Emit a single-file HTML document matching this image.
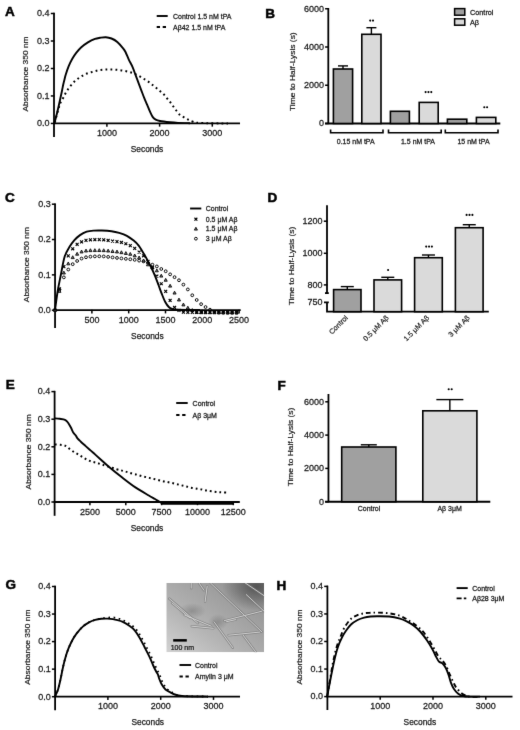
<!DOCTYPE html>
<html><head><meta charset="utf-8"><style>
html,body{margin:0;padding:0;background:#fff;}
svg{display:block;font-family:"Liberation Sans", sans-serif;}
#wrap{width:520px;height:730px;overflow:hidden;will-change:transform;}
</style></head><body><div id="wrap">
<svg width="520" height="730" viewBox="0 0 520 730">
<defs><filter id="soft" x="0" y="0" width="520" height="730" filterUnits="userSpaceOnUse" color-interpolation-filters="sRGB"><feConvolveMatrix order="3" kernelMatrix="0.00524 0.0619 0.00524 0.0619 0.7312 0.0619 0.00524 0.0619 0.00524" divisor="1" edgeMode="duplicate"/></filter></defs>
<g filter="url(#soft)">
<rect width="520" height="730" fill="#fff"/>
<text x="5" y="15.6" font-size="13.5" text-anchor="start" font-weight="bold" fill="#000" stroke="#000" stroke-width="0.5" >A</text>
<text x="0" y="0" font-size="8.4" text-anchor="middle" fill="#1a1a1a" stroke="#1a1a1a" stroke-width="0.22" transform="translate(25.7,74) rotate(-90) scale(1,0.88)" dominant-baseline="central">Absorbance 350 nm</text>
<line x1="54" y1="12.75" x2="54" y2="137" stroke="#000" stroke-width="1.8" />
<line x1="50.8" y1="13.5" x2="54.5" y2="13.5" stroke="#000" stroke-width="1.5" />
<text x="0" y="0" transform="translate(49.6,16.3) scale(1,1.06)" font-size="9" text-anchor="end" font-weight="normal" fill="#1a1a1a" stroke="#1a1a1a" stroke-width="0.25" >0.4</text>
<line x1="50.8" y1="41" x2="54.5" y2="41" stroke="#000" stroke-width="1.5" />
<text x="0" y="0" transform="translate(49.6,43.8) scale(1,1.06)" font-size="9" text-anchor="end" font-weight="normal" fill="#1a1a1a" stroke="#1a1a1a" stroke-width="0.25" >0.3</text>
<line x1="50.8" y1="68.5" x2="54.5" y2="68.5" stroke="#000" stroke-width="1.5" />
<text x="0" y="0" transform="translate(49.6,71.3) scale(1,1.06)" font-size="9" text-anchor="end" font-weight="normal" fill="#1a1a1a" stroke="#1a1a1a" stroke-width="0.25" >0.2</text>
<line x1="50.8" y1="95.95" x2="54.5" y2="95.95" stroke="#000" stroke-width="1.5" />
<text x="0" y="0" transform="translate(49.6,98.75) scale(1,1.06)" font-size="9" text-anchor="end" font-weight="normal" fill="#1a1a1a" stroke="#1a1a1a" stroke-width="0.25" >0.1</text>
<line x1="50.8" y1="123.45" x2="54.5" y2="123.45" stroke="#000" stroke-width="1.5" />
<text x="0" y="0" transform="translate(49.6,126.25) scale(1,1.06)" font-size="9" text-anchor="end" font-weight="normal" fill="#1a1a1a" stroke="#1a1a1a" stroke-width="0.25" >0.0</text>
<line x1="53.3" y1="123.45" x2="240" y2="123.45" stroke="#000" stroke-width="1.8" />
<line x1="106.9" y1="122.95" x2="106.9" y2="126.65" stroke="#000" stroke-width="1.5" />
<text x="0" y="0" transform="translate(106.9,136.1) scale(1,1.06)" font-size="9" text-anchor="middle" font-weight="normal" fill="#1a1a1a" stroke="#1a1a1a" stroke-width="0.25" >1000</text>
<line x1="159.6" y1="122.95" x2="159.6" y2="126.65" stroke="#000" stroke-width="1.5" />
<text x="0" y="0" transform="translate(159.6,136.1) scale(1,1.06)" font-size="9" text-anchor="middle" font-weight="normal" fill="#1a1a1a" stroke="#1a1a1a" stroke-width="0.25" >2000</text>
<line x1="212.3" y1="122.95" x2="212.3" y2="126.65" stroke="#000" stroke-width="1.5" />
<text x="0" y="0" transform="translate(212.3,136.1) scale(1,1.06)" font-size="9" text-anchor="middle" font-weight="normal" fill="#1a1a1a" stroke="#1a1a1a" stroke-width="0.25" >3000</text>
<text x="147" y="151.8" font-size="8.4" text-anchor="middle" font-weight="normal" fill="#1a1a1a" stroke="#1a1a1a" stroke-width="0.25" >Seconds</text>
<path d="M54.5,123 C54.97,121.17 56.38,115.83 57.3,112 C58.22,108.17 59.35,102.92 60,100 C60.65,97.08 60.83,96.2 61.2,94.5 C61.57,92.8 61.87,91.42 62.2,89.8 C62.53,88.18 62.82,86.52 63.2,84.8 C63.58,83.08 64.08,81.17 64.5,79.5 C64.92,77.83 65.02,76.98 65.7,74.8 C66.38,72.62 67.5,69.07 68.6,66.4 C69.7,63.73 71,61.08 72.3,58.8 C73.6,56.52 74.9,54.62 76.4,52.7 C77.9,50.78 79.38,49.02 81.3,47.3 C83.22,45.58 85.62,43.8 87.9,42.4 C90.18,41 92.98,39.67 95,38.9 C97.02,38.13 98.2,38.08 100,37.8 C101.8,37.52 103.88,37.08 105.8,37.2 C107.72,37.32 109.58,37.7 111.5,38.5 C113.42,39.3 115.37,40.37 117.3,42 C119.23,43.63 121.73,46.63 123.1,48.3 C124.47,49.97 124.55,50.12 125.5,52 C126.45,53.88 127.6,57.05 128.8,59.6 C130,62.15 131.58,64.75 132.7,67.3 C133.82,69.85 134.55,72.35 135.5,74.9 C136.45,77.45 137.43,80.03 138.4,82.6 C139.37,85.17 140.33,87.75 141.3,90.3 C142.27,92.85 143.23,95.52 144.2,97.9 C145.17,100.28 146.15,102.35 147.1,104.6 C148.05,106.85 148.95,109.32 149.9,111.4 C150.85,113.48 151.83,115.73 152.8,117.1 C153.77,118.47 154.5,118.95 155.7,119.6 C156.9,120.25 157.62,120.55 160,121 C162.38,121.45 167,121.98 170,122.3 C173,122.62 174.67,122.75 178,122.9 C181.33,123.05 188,123.15 190,123.2" fill="none" stroke="#000" stroke-width="1.9" stroke-linejoin="round" />
<path d="M54.8,122.5 C55.17,121.08 56.3,116.58 57,114 C57.7,111.42 58.42,108.88 59,107 C59.58,105.12 59.82,104.18 60.5,102.7 C61.18,101.22 62.28,99.63 63.1,98.1 C63.92,96.57 64.55,95.02 65.4,93.5 C66.25,91.98 67.2,90.45 68.2,89 C69.2,87.55 70.25,86.13 71.4,84.8 C72.55,83.47 73.8,82.17 75.1,81 C76.4,79.83 77.78,78.78 79.2,77.8 C80.62,76.82 82.1,75.88 83.6,75.1 C85.1,74.32 86.55,73.68 88.2,73.1 C89.85,72.52 91.77,72.07 93.5,71.6 C95.23,71.13 96.88,70.62 98.6,70.3 C100.32,69.98 102.12,69.82 103.8,69.7 C105.48,69.58 107.03,69.62 108.7,69.6 C110.37,69.58 112.08,69.53 113.8,69.6 C115.52,69.67 117.27,69.8 119,70 C120.73,70.2 122.48,70.47 124.2,70.8 C125.92,71.13 127.65,71.55 129.3,72 C130.95,72.45 132.5,72.85 134.1,73.5 C135.7,74.15 137.37,75.07 138.9,75.9 C140.43,76.73 141.82,77.6 143.3,78.5 C144.78,79.4 146.37,80.3 147.8,81.3 C149.23,82.3 150.52,83.42 151.9,84.5 C153.28,85.58 154.72,86.68 156.1,87.8 C157.48,88.92 158.88,90.07 160.2,91.2 C161.52,92.33 162.82,93.35 164,94.6 C165.18,95.85 166.2,97.35 167.3,98.7 C168.4,100.05 169.57,101.37 170.6,102.7 C171.63,104.03 172.48,105.32 173.5,106.7 C174.52,108.08 175.62,109.62 176.7,111 C177.78,112.38 178.77,113.93 180,115 C181.23,116.07 182.68,116.6 184.1,117.4 C185.52,118.2 187.02,119.08 188.5,119.8 C189.98,120.52 191.08,121.17 193,121.7 C194.92,122.23 194.17,122.7 200,123 C205.83,123.3 223.33,123.42 228,123.5" fill="none" stroke="#000" stroke-width="2.0" stroke-linejoin="round" stroke-dasharray="1.8 3.2"/>
<line x1="156.7" y1="16" x2="167.7" y2="16" stroke="#000" stroke-width="1.9" />
<text x="0" y="0" transform="translate(173,18.5) scale(1,1.08)" font-size="7" text-anchor="start" font-weight="normal" fill="#1a1a1a" stroke="#1a1a1a" stroke-width="0.25" >Control 1.5 nM tPA</text>
<line x1="156.7" y1="27" x2="167.7" y2="27" stroke="#000" stroke-width="1.9" stroke-dasharray="3.3 2.7"/>
<text x="0" y="0" transform="translate(173,29.5) scale(1,1.08)" font-size="7" text-anchor="start" font-weight="normal" fill="#1a1a1a" stroke="#1a1a1a" stroke-width="0.25" >A&#946;42 1.5 nM tPA</text>
<text x="5" y="201.8" font-size="13.5" text-anchor="start" font-weight="bold" fill="#000" stroke="#000" stroke-width="0.5" >C</text>
<text x="0" y="0" font-size="8.4" text-anchor="middle" fill="#1a1a1a" stroke="#1a1a1a" stroke-width="0.22" transform="translate(26.7,264.6) rotate(-90) scale(1,0.88)" dominant-baseline="central">Absorbance 350 nm</text>
<line x1="55.05" y1="203.45" x2="55.05" y2="328" stroke="#000" stroke-width="1.8" />
<line x1="51.85" y1="204.2" x2="55.55" y2="204.2" stroke="#000" stroke-width="1.5" />
<text x="0" y="0" transform="translate(50.65,207) scale(1,1.06)" font-size="9" text-anchor="end" font-weight="normal" fill="#1a1a1a" stroke="#1a1a1a" stroke-width="0.25" >0.3</text>
<line x1="51.85" y1="239.53" x2="55.55" y2="239.53" stroke="#000" stroke-width="1.5" />
<text x="0" y="0" transform="translate(50.65,242.33) scale(1,1.06)" font-size="9" text-anchor="end" font-weight="normal" fill="#1a1a1a" stroke="#1a1a1a" stroke-width="0.25" >0.2</text>
<line x1="51.85" y1="274.87" x2="55.55" y2="274.87" stroke="#000" stroke-width="1.5" />
<text x="0" y="0" transform="translate(50.65,277.67) scale(1,1.06)" font-size="9" text-anchor="end" font-weight="normal" fill="#1a1a1a" stroke="#1a1a1a" stroke-width="0.25" >0.1</text>
<line x1="51.85" y1="310.2" x2="55.55" y2="310.2" stroke="#000" stroke-width="1.5" />
<text x="0" y="0" transform="translate(50.65,313) scale(1,1.06)" font-size="9" text-anchor="end" font-weight="normal" fill="#1a1a1a" stroke="#1a1a1a" stroke-width="0.25" >0.0</text>
<line x1="54.2" y1="310.2" x2="240.7" y2="310.2" stroke="#000" stroke-width="1.8" />
<line x1="91.9" y1="309.7" x2="91.9" y2="313.4" stroke="#000" stroke-width="1.5" />
<text x="0" y="0" transform="translate(91.9,323.2) scale(1,1.06)" font-size="9" text-anchor="middle" font-weight="normal" fill="#1a1a1a" stroke="#1a1a1a" stroke-width="0.25" >500</text>
<line x1="128.7" y1="309.7" x2="128.7" y2="313.4" stroke="#000" stroke-width="1.5" />
<text x="0" y="0" transform="translate(128.7,323.2) scale(1,1.06)" font-size="9" text-anchor="middle" font-weight="normal" fill="#1a1a1a" stroke="#1a1a1a" stroke-width="0.25" >1000</text>
<line x1="165.5" y1="309.7" x2="165.5" y2="313.4" stroke="#000" stroke-width="1.5" />
<text x="0" y="0" transform="translate(165.5,323.2) scale(1,1.06)" font-size="9" text-anchor="middle" font-weight="normal" fill="#1a1a1a" stroke="#1a1a1a" stroke-width="0.25" >1500</text>
<line x1="202.3" y1="309.7" x2="202.3" y2="313.4" stroke="#000" stroke-width="1.5" />
<text x="0" y="0" transform="translate(202.3,323.2) scale(1,1.06)" font-size="9" text-anchor="middle" font-weight="normal" fill="#1a1a1a" stroke="#1a1a1a" stroke-width="0.25" >2000</text>
<line x1="239.1" y1="309.7" x2="239.1" y2="313.4" stroke="#000" stroke-width="1.5" />
<text x="0" y="0" transform="translate(239.1,323.2) scale(1,1.06)" font-size="9" text-anchor="middle" font-weight="normal" fill="#1a1a1a" stroke="#1a1a1a" stroke-width="0.25" >2500</text>
<text x="147.4" y="338.8" font-size="8.4" text-anchor="middle" font-weight="normal" fill="#1a1a1a" stroke="#1a1a1a" stroke-width="0.25" >Seconds</text>
<circle cx="55" cy="310" r="1.4" fill="none" stroke="#000" stroke-width="0.95"/>
<path d="M55,308.45L56.55,311.32L53.45,311.32Z" fill="#777" stroke="#000" stroke-width="0.85" stroke-linejoin="round"/>
<path d="M53.55,308.55L56.45,311.45M53.55,311.45L56.45,308.55" stroke="#000" stroke-width="1.15"/>
<circle cx="59.43" cy="289.57" r="1.4" fill="none" stroke="#000" stroke-width="0.95"/>
<path d="M59.43,289.49L60.98,292.35L57.88,292.35Z" fill="#777" stroke="#000" stroke-width="0.85" stroke-linejoin="round"/>
<path d="M57.98,287.38L60.88,290.28M57.98,290.28L60.88,287.38" stroke="#000" stroke-width="1.15"/>
<circle cx="63.86" cy="277.37" r="1.4" fill="none" stroke="#000" stroke-width="0.95"/>
<path d="M63.86,271.13L65.41,274L62.31,274Z" fill="#777" stroke="#000" stroke-width="0.85" stroke-linejoin="round"/>
<path d="M62.41,265.17L65.31,268.07M62.41,268.07L65.31,265.17" stroke="#000" stroke-width="1.15"/>
<circle cx="68.28" cy="269.53" r="1.4" fill="none" stroke="#000" stroke-width="0.95"/>
<path d="M68.28,261.98L69.83,264.85L66.73,264.85Z" fill="#777" stroke="#000" stroke-width="0.85" stroke-linejoin="round"/>
<path d="M66.83,254.39L69.73,257.29M66.83,257.29L69.73,254.39" stroke="#000" stroke-width="1.15"/>
<circle cx="72.71" cy="264.19" r="1.4" fill="none" stroke="#000" stroke-width="0.95"/>
<path d="M72.71,255.74L74.26,258.61L71.16,258.61Z" fill="#777" stroke="#000" stroke-width="0.85" stroke-linejoin="round"/>
<path d="M71.26,247.34L74.16,250.24M71.26,250.24L74.16,247.34" stroke="#000" stroke-width="1.15"/>
<circle cx="77.14" cy="260.97" r="1.4" fill="none" stroke="#000" stroke-width="0.95"/>
<path d="M77.14,252.32L78.69,255.19L75.59,255.19Z" fill="#777" stroke="#000" stroke-width="0.85" stroke-linejoin="round"/>
<path d="M75.69,242.82L78.59,245.72M75.69,245.72L78.59,242.82" stroke="#000" stroke-width="1.15"/>
<circle cx="81.57" cy="258.58" r="1.4" fill="none" stroke="#000" stroke-width="0.95"/>
<path d="M81.57,250.07L83.12,252.93L80.02,252.93Z" fill="#777" stroke="#000" stroke-width="0.85" stroke-linejoin="round"/>
<path d="M80.12,240.42L83.02,243.32M80.12,243.32L83.02,240.42" stroke="#000" stroke-width="1.15"/>
<circle cx="86" cy="257.25" r="1.4" fill="none" stroke="#000" stroke-width="0.95"/>
<path d="M86,249.11L87.55,251.98L84.45,251.98Z" fill="#777" stroke="#000" stroke-width="0.85" stroke-linejoin="round"/>
<path d="M84.55,238.9L87.45,241.8M84.55,241.8L87.45,238.9" stroke="#000" stroke-width="1.15"/>
<circle cx="90.42" cy="256.67" r="1.4" fill="none" stroke="#000" stroke-width="0.95"/>
<path d="M90.42,248.74L91.97,251.61L88.87,251.61Z" fill="#777" stroke="#000" stroke-width="0.85" stroke-linejoin="round"/>
<path d="M88.97,238.34L91.87,241.24M88.97,241.24L91.87,238.34" stroke="#000" stroke-width="1.15"/>
<circle cx="94.85" cy="256.39" r="1.4" fill="none" stroke="#000" stroke-width="0.95"/>
<path d="M94.85,248.69L96.4,251.56L93.3,251.56Z" fill="#777" stroke="#000" stroke-width="0.85" stroke-linejoin="round"/>
<path d="M93.4,238.23L96.3,241.13M93.4,241.13L96.3,238.23" stroke="#000" stroke-width="1.15"/>
<circle cx="99.28" cy="256.31" r="1.4" fill="none" stroke="#000" stroke-width="0.95"/>
<path d="M99.28,248.67L100.83,251.54L97.73,251.54Z" fill="#777" stroke="#000" stroke-width="0.85" stroke-linejoin="round"/>
<path d="M97.83,238.18L100.73,241.08M97.83,241.08L100.73,238.18" stroke="#000" stroke-width="1.15"/>
<circle cx="103.71" cy="256.43" r="1.4" fill="none" stroke="#000" stroke-width="0.95"/>
<path d="M103.71,248.78L105.26,251.64L102.16,251.64Z" fill="#777" stroke="#000" stroke-width="0.85" stroke-linejoin="round"/>
<path d="M102.26,238.37L105.16,241.27M102.26,241.27L105.16,238.37" stroke="#000" stroke-width="1.15"/>
<circle cx="108.14" cy="256.89" r="1.4" fill="none" stroke="#000" stroke-width="0.95"/>
<path d="M108.14,249.14L109.69,252.01L106.59,252.01Z" fill="#777" stroke="#000" stroke-width="0.85" stroke-linejoin="round"/>
<path d="M106.69,239.01L109.59,241.91M106.69,241.91L109.59,239.01" stroke="#000" stroke-width="1.15"/>
<circle cx="112.56" cy="257.41" r="1.4" fill="none" stroke="#000" stroke-width="0.95"/>
<path d="M112.56,249.66L114.11,252.52L111.01,252.52Z" fill="#777" stroke="#000" stroke-width="0.85" stroke-linejoin="round"/>
<path d="M111.11,239.66L114.01,242.56M111.11,242.56L114.01,239.66" stroke="#000" stroke-width="1.15"/>
<circle cx="116.99" cy="257.92" r="1.4" fill="none" stroke="#000" stroke-width="0.95"/>
<path d="M116.99,250.08L118.54,252.95L115.44,252.95Z" fill="#777" stroke="#000" stroke-width="0.85" stroke-linejoin="round"/>
<path d="M115.54,240.18L118.44,243.08M115.54,243.08L118.44,240.18" stroke="#000" stroke-width="1.15"/>
<circle cx="121.42" cy="258.42" r="1.4" fill="none" stroke="#000" stroke-width="0.95"/>
<path d="M121.42,250.79L122.97,253.66L119.87,253.66Z" fill="#777" stroke="#000" stroke-width="0.85" stroke-linejoin="round"/>
<path d="M119.97,241.01L122.87,243.91M119.97,243.91L122.87,241.01" stroke="#000" stroke-width="1.15"/>
<circle cx="125.85" cy="258.84" r="1.4" fill="none" stroke="#000" stroke-width="0.95"/>
<path d="M125.85,251.62L127.4,254.48L124.3,254.48Z" fill="#777" stroke="#000" stroke-width="0.85" stroke-linejoin="round"/>
<path d="M124.4,242.29L127.3,245.19M124.4,245.19L127.3,242.29" stroke="#000" stroke-width="1.15"/>
<circle cx="130.28" cy="259.3" r="1.4" fill="none" stroke="#000" stroke-width="0.95"/>
<path d="M130.28,252.45L131.83,255.31L128.73,255.31Z" fill="#777" stroke="#000" stroke-width="0.85" stroke-linejoin="round"/>
<path d="M128.83,244.14L131.73,247.04M128.83,247.04L131.73,244.14" stroke="#000" stroke-width="1.15"/>
<circle cx="134.7" cy="259.82" r="1.4" fill="none" stroke="#000" stroke-width="0.95"/>
<path d="M134.7,254L136.25,256.86L133.15,256.86Z" fill="#777" stroke="#000" stroke-width="0.85" stroke-linejoin="round"/>
<path d="M133.25,246.95L136.15,249.85M133.25,249.85L136.15,246.95" stroke="#000" stroke-width="1.15"/>
<circle cx="139.13" cy="260.64" r="1.4" fill="none" stroke="#000" stroke-width="0.95"/>
<path d="M139.13,256L140.68,258.87L137.58,258.87Z" fill="#777" stroke="#000" stroke-width="0.85" stroke-linejoin="round"/>
<path d="M137.68,250.64L140.58,253.54M137.68,253.54L140.58,250.64" stroke="#000" stroke-width="1.15"/>
<circle cx="143.56" cy="261.39" r="1.4" fill="none" stroke="#000" stroke-width="0.95"/>
<path d="M143.56,258.98L145.11,261.85L142.01,261.85Z" fill="#777" stroke="#000" stroke-width="0.85" stroke-linejoin="round"/>
<path d="M142.11,254.38L145.01,257.28M142.11,257.28L145.01,254.38" stroke="#000" stroke-width="1.15"/>
<circle cx="147.99" cy="263" r="1.4" fill="none" stroke="#000" stroke-width="0.95"/>
<path d="M147.99,262.94L149.54,265.81L146.44,265.81Z" fill="#777" stroke="#000" stroke-width="0.85" stroke-linejoin="round"/>
<path d="M146.54,260.03L149.44,262.93M146.54,262.93L149.44,260.03" stroke="#000" stroke-width="1.15"/>
<circle cx="152.42" cy="264.69" r="1.4" fill="none" stroke="#000" stroke-width="0.95"/>
<path d="M152.42,265.89L153.97,268.76L150.87,268.76Z" fill="#777" stroke="#000" stroke-width="0.85" stroke-linejoin="round"/>
<path d="M150.97,266.27L153.87,269.17M150.97,269.17L153.87,266.27" stroke="#000" stroke-width="1.15"/>
<circle cx="156.84" cy="266.44" r="1.4" fill="none" stroke="#000" stroke-width="0.95"/>
<path d="M156.84,268.94L158.39,271.81L155.29,271.81Z" fill="#777" stroke="#000" stroke-width="0.85" stroke-linejoin="round"/>
<path d="M155.39,274.6L158.29,277.5M155.39,277.5L158.29,274.6" stroke="#000" stroke-width="1.15"/>
<circle cx="161.27" cy="268.98" r="1.4" fill="none" stroke="#000" stroke-width="0.95"/>
<path d="M161.27,274.22L162.82,277.08L159.72,277.08Z" fill="#777" stroke="#000" stroke-width="0.85" stroke-linejoin="round"/>
<path d="M159.82,282.3L162.72,285.2M159.82,285.2L162.72,282.3" stroke="#000" stroke-width="1.15"/>
<circle cx="165.7" cy="271.25" r="1.4" fill="none" stroke="#000" stroke-width="0.95"/>
<path d="M165.7,278.37L167.25,281.24L164.15,281.24Z" fill="#777" stroke="#000" stroke-width="0.85" stroke-linejoin="round"/>
<path d="M164.25,289.93L167.15,292.83M164.25,292.83L167.15,289.93" stroke="#000" stroke-width="1.15"/>
<circle cx="170.13" cy="274.35" r="1.4" fill="none" stroke="#000" stroke-width="0.95"/>
<path d="M170.13,284.25L171.68,287.12L168.58,287.12Z" fill="#777" stroke="#000" stroke-width="0.85" stroke-linejoin="round"/>
<path d="M168.68,299L171.58,301.9M168.68,301.9L171.58,299" stroke="#000" stroke-width="1.15"/>
<circle cx="174.56" cy="277.17" r="1.4" fill="none" stroke="#000" stroke-width="0.95"/>
<path d="M174.56,291.18L176.11,294.05L173.01,294.05Z" fill="#777" stroke="#000" stroke-width="0.85" stroke-linejoin="round"/>
<path d="M173.11,305.98L176.01,308.88M173.11,308.88L176.01,305.98" stroke="#000" stroke-width="1.15"/>
<circle cx="178.98" cy="280.25" r="1.4" fill="none" stroke="#000" stroke-width="0.95"/>
<path d="M178.98,298.11L180.53,300.98L177.43,300.98Z" fill="#777" stroke="#000" stroke-width="0.85" stroke-linejoin="round"/>
<path d="M177.53,308.91L180.43,311.81M177.53,311.81L180.43,308.91" stroke="#000" stroke-width="1.15"/>
<circle cx="183.41" cy="284.61" r="1.4" fill="none" stroke="#000" stroke-width="0.95"/>
<path d="M183.41,303.04L184.96,305.91L181.86,305.91Z" fill="#777" stroke="#000" stroke-width="0.85" stroke-linejoin="round"/>
<path d="M181.96,310.77L184.86,313.67M181.96,313.67L184.86,310.77" stroke="#000" stroke-width="1.15"/>
<circle cx="187.84" cy="289.43" r="1.4" fill="none" stroke="#000" stroke-width="0.95"/>
<path d="M187.84,306.2L189.39,309.07L186.29,309.07Z" fill="#777" stroke="#000" stroke-width="0.85" stroke-linejoin="round"/>
<path d="M186.39,310.87L189.29,313.77M186.39,313.77L189.29,310.87" stroke="#000" stroke-width="1.15"/>
<circle cx="192.27" cy="295.26" r="1.4" fill="none" stroke="#000" stroke-width="0.95"/>
<path d="M192.27,308.57L193.82,311.44L190.72,311.44Z" fill="#777" stroke="#000" stroke-width="0.85" stroke-linejoin="round"/>
<path d="M190.82,310.9L193.72,313.8M190.82,313.8L193.72,310.9" stroke="#000" stroke-width="1.15"/>
<circle cx="196.7" cy="299.98" r="1.4" fill="none" stroke="#000" stroke-width="0.95"/>
<path d="M196.7,310.61L198.25,313.48L195.15,313.48Z" fill="#777" stroke="#000" stroke-width="0.85" stroke-linejoin="round"/>
<path d="M195.25,310.92L198.15,313.82M195.25,313.82L198.15,310.92" stroke="#000" stroke-width="1.15"/>
<circle cx="201.12" cy="304.14" r="1.4" fill="none" stroke="#000" stroke-width="0.95"/>
<path d="M201.12,310.78L202.67,313.65L199.57,313.65Z" fill="#777" stroke="#000" stroke-width="0.85" stroke-linejoin="round"/>
<path d="M199.67,310.94L202.57,313.84M199.67,313.84L202.57,310.94" stroke="#000" stroke-width="1.15"/>
<circle cx="205.55" cy="307.04" r="1.4" fill="none" stroke="#000" stroke-width="0.95"/>
<path d="M205.55,310.81L207.1,313.68L204,313.68Z" fill="#777" stroke="#000" stroke-width="0.85" stroke-linejoin="round"/>
<path d="M204.1,310.97L207,313.87M204.1,313.87L207,310.97" stroke="#000" stroke-width="1.15"/>
<circle cx="209.98" cy="309.67" r="1.4" fill="none" stroke="#000" stroke-width="0.95"/>
<path d="M209.98,310.84L211.53,313.71L208.43,313.71Z" fill="#777" stroke="#000" stroke-width="0.85" stroke-linejoin="round"/>
<path d="M208.53,310.99L211.43,313.89M208.53,313.89L211.43,310.99" stroke="#000" stroke-width="1.15"/>
<circle cx="214.41" cy="311.9" r="1.4" fill="none" stroke="#000" stroke-width="0.95"/>
<path d="M214.41,310.87L215.96,313.74L212.86,313.74Z" fill="#777" stroke="#000" stroke-width="0.85" stroke-linejoin="round"/>
<path d="M212.96,311.01L215.86,313.91M212.96,313.91L215.86,311.01" stroke="#000" stroke-width="1.15"/>
<circle cx="218.84" cy="312.55" r="1.4" fill="none" stroke="#000" stroke-width="0.95"/>
<path d="M218.84,310.9L220.39,313.77L217.29,313.77Z" fill="#777" stroke="#000" stroke-width="0.85" stroke-linejoin="round"/>
<path d="M217.39,311.04L220.29,313.94M217.39,313.94L220.29,311.04" stroke="#000" stroke-width="1.15"/>
<circle cx="223.26" cy="312.7" r="1.4" fill="none" stroke="#000" stroke-width="0.95"/>
<path d="M223.26,310.93L224.81,313.8L221.71,313.8Z" fill="#777" stroke="#000" stroke-width="0.85" stroke-linejoin="round"/>
<path d="M221.81,311.06L224.71,313.96M221.81,313.96L224.71,311.06" stroke="#000" stroke-width="1.15"/>
<circle cx="227.69" cy="312.7" r="1.4" fill="none" stroke="#000" stroke-width="0.95"/>
<path d="M227.69,310.96L229.24,313.83L226.14,313.83Z" fill="#777" stroke="#000" stroke-width="0.85" stroke-linejoin="round"/>
<path d="M226.24,311.08L229.14,313.98M226.24,313.98L229.14,311.08" stroke="#000" stroke-width="1.15"/>
<circle cx="232.12" cy="312.7" r="1.4" fill="none" stroke="#000" stroke-width="0.95"/>
<path d="M232.12,311L233.67,313.86L230.57,313.86Z" fill="#777" stroke="#000" stroke-width="0.85" stroke-linejoin="round"/>
<path d="M230.67,311.11L233.57,314.01M230.67,314.01L233.57,311.11" stroke="#000" stroke-width="1.15"/>
<circle cx="236.55" cy="312.7" r="1.4" fill="none" stroke="#000" stroke-width="0.95"/>
<path d="M236.55,311.03L238.1,313.89L235,313.89Z" fill="#777" stroke="#000" stroke-width="0.85" stroke-linejoin="round"/>
<path d="M235.1,311.13L238,314.03M235.1,314.03L238,311.13" stroke="#000" stroke-width="1.15"/>
<path d="M55,310 C55.45,306.83 56.73,296.83 57.7,291 C58.67,285.17 59.65,280.72 60.8,275 C61.95,269.28 63.17,261.35 64.6,256.7 C66.03,252.05 67.8,249.82 69.4,247.1 C71,244.38 72.43,242.4 74.2,240.4 C75.97,238.4 77.92,236.55 80,235.1 C82.08,233.65 84.45,232.45 86.7,231.7 C88.95,230.95 90.97,230.8 93.5,230.6 C96.03,230.4 98.9,230.4 101.9,230.5 C104.9,230.6 108.62,230.8 111.5,231.2 C114.38,231.6 116.63,232.13 119.2,232.9 C121.77,233.67 124.48,234.52 126.9,235.8 C129.32,237.08 131.77,239 133.7,240.6 C135.63,242.2 137.07,243.63 138.5,245.4 C139.93,247.17 141.02,249.12 142.3,251.2 C143.58,253.28 145.23,256.15 146.2,257.9 C147.17,259.65 147.22,260.02 148.1,261.7 C148.98,263.38 150.35,265.65 151.5,268 C152.65,270.35 153.83,272.97 155,275.8 C156.17,278.63 157.35,281.93 158.5,285 C159.65,288.07 160.75,291.32 161.9,294.2 C163.05,297.08 164.25,300.17 165.4,302.3 C166.55,304.43 167.65,305.88 168.8,307 C169.95,308.12 171.1,308.53 172.3,309 C173.5,309.47 171.38,309.63 176,309.8 C180.62,309.97 196,309.97 200,310" fill="none" stroke="#000" stroke-width="1.9" stroke-linejoin="round" />
<line x1="190.1" y1="208.5" x2="201.3" y2="208.5" stroke="#000" stroke-width="1.9" />
<text x="0" y="0" transform="translate(205.8,211) scale(1,1.08)" font-size="7" text-anchor="start" font-weight="normal" fill="#1a1a1a" stroke="#1a1a1a" stroke-width="0.25" >Control</text>
<path d="M194.45,217.75L197.35,220.65M194.45,220.65L197.35,217.75" stroke="#000" stroke-width="1.15"/>
<text x="0" y="0" transform="translate(205.8,221.7) scale(1,1.08)" font-size="7" text-anchor="start" font-weight="normal" fill="#1a1a1a" stroke="#1a1a1a" stroke-width="0.25" >0.5 &#956;M A&#946;</text>
<path d="M195.9,227.25L197.45,230.12L194.35,230.12Z" fill="#777" stroke="#000" stroke-width="0.85" stroke-linejoin="round"/>
<text x="0" y="0" transform="translate(205.8,231.3) scale(1,1.08)" font-size="7" text-anchor="start" font-weight="normal" fill="#1a1a1a" stroke="#1a1a1a" stroke-width="0.25" >1.5 &#956;M A&#946;</text>
<circle cx="195.9" cy="238.7" r="1.4" fill="none" stroke="#000" stroke-width="0.95"/>
<text x="0" y="0" transform="translate(205.8,241.2) scale(1,1.08)" font-size="7" text-anchor="start" font-weight="normal" fill="#1a1a1a" stroke="#1a1a1a" stroke-width="0.25" >3 &#956;M A&#946;</text>
<text x="5.8" y="389.2" font-size="13.5" text-anchor="start" font-weight="bold" fill="#000" stroke="#000" stroke-width="0.5" >E</text>
<text x="0" y="0" font-size="8.4" text-anchor="middle" fill="#1a1a1a" stroke="#1a1a1a" stroke-width="0.22" transform="translate(28.7,451.9) rotate(-90) scale(1,0.88)" dominant-baseline="central">Absorbance 350 nm</text>
<line x1="54.6" y1="390.85" x2="54.6" y2="515.8" stroke="#000" stroke-width="1.8" />
<line x1="51.4" y1="391.6" x2="55.1" y2="391.6" stroke="#000" stroke-width="1.5" />
<text x="0" y="0" transform="translate(50.2,394.4) scale(1,1.06)" font-size="9" text-anchor="end" font-weight="normal" fill="#1a1a1a" stroke="#1a1a1a" stroke-width="0.25" >0.4</text>
<line x1="51.4" y1="419.2" x2="55.1" y2="419.2" stroke="#000" stroke-width="1.5" />
<text x="0" y="0" transform="translate(50.2,422) scale(1,1.06)" font-size="9" text-anchor="end" font-weight="normal" fill="#1a1a1a" stroke="#1a1a1a" stroke-width="0.25" >0.3</text>
<line x1="51.4" y1="446.8" x2="55.1" y2="446.8" stroke="#000" stroke-width="1.5" />
<text x="0" y="0" transform="translate(50.2,449.6) scale(1,1.06)" font-size="9" text-anchor="end" font-weight="normal" fill="#1a1a1a" stroke="#1a1a1a" stroke-width="0.25" >0.2</text>
<line x1="51.4" y1="474.4" x2="55.1" y2="474.4" stroke="#000" stroke-width="1.5" />
<text x="0" y="0" transform="translate(50.2,477.2) scale(1,1.06)" font-size="9" text-anchor="end" font-weight="normal" fill="#1a1a1a" stroke="#1a1a1a" stroke-width="0.25" >0.1</text>
<line x1="51.4" y1="502" x2="55.1" y2="502" stroke="#000" stroke-width="1.5" />
<text x="0" y="0" transform="translate(50.2,504.8) scale(1,1.06)" font-size="9" text-anchor="end" font-weight="normal" fill="#1a1a1a" stroke="#1a1a1a" stroke-width="0.25" >0.0</text>
<line x1="53.7" y1="502" x2="239.8" y2="502" stroke="#000" stroke-width="1.8" />
<line x1="89.9" y1="501.5" x2="89.9" y2="505.2" stroke="#000" stroke-width="1.5" />
<text x="0" y="0" transform="translate(89.9,514.7) scale(1,1.06)" font-size="9" text-anchor="middle" font-weight="normal" fill="#1a1a1a" stroke="#1a1a1a" stroke-width="0.25" >2500</text>
<line x1="125.8" y1="501.5" x2="125.8" y2="505.2" stroke="#000" stroke-width="1.5" />
<text x="0" y="0" transform="translate(125.8,514.7) scale(1,1.06)" font-size="9" text-anchor="middle" font-weight="normal" fill="#1a1a1a" stroke="#1a1a1a" stroke-width="0.25" >5000</text>
<line x1="161.6" y1="501.5" x2="161.6" y2="505.2" stroke="#000" stroke-width="1.5" />
<text x="0" y="0" transform="translate(161.6,514.7) scale(1,1.06)" font-size="9" text-anchor="middle" font-weight="normal" fill="#1a1a1a" stroke="#1a1a1a" stroke-width="0.25" >7500</text>
<line x1="197.5" y1="501.5" x2="197.5" y2="505.2" stroke="#000" stroke-width="1.5" />
<text x="0" y="0" transform="translate(197.5,514.7) scale(1,1.06)" font-size="9" text-anchor="middle" font-weight="normal" fill="#1a1a1a" stroke="#1a1a1a" stroke-width="0.25" >10000</text>
<line x1="233.3" y1="501.5" x2="233.3" y2="505.2" stroke="#000" stroke-width="1.5" />
<text x="0" y="0" transform="translate(233.3,514.7) scale(1,1.06)" font-size="9" text-anchor="middle" font-weight="normal" fill="#1a1a1a" stroke="#1a1a1a" stroke-width="0.25" >12500</text>
<text x="147" y="530.6" font-size="8.4" text-anchor="middle" font-weight="normal" fill="#1a1a1a" stroke="#1a1a1a" stroke-width="0.25" >Seconds</text>
<path d="M54.5,418.3 C55.37,418.38 57.95,418.55 59.7,418.8 C61.45,419.05 63.63,419.18 65,419.8 C66.37,420.42 66.94,421.25 67.9,422.5 C68.86,423.75 69.8,425.53 70.75,427.3 C71.7,429.07 72.79,431.78 73.6,433.1 C74.41,434.42 74.95,434.32 75.6,435.2 C76.25,436.08 76.63,437.32 77.5,438.4 C78.37,439.48 79.43,440.42 80.8,441.7 C82.17,442.98 84.08,444.65 85.7,446.1 C87.32,447.55 88.9,448.98 90.5,450.4 C92.1,451.82 93.47,452.97 95.3,454.6 C97.13,456.23 99.3,458.22 101.5,460.2 C103.7,462.18 105.1,463.65 108.5,466.5 C111.9,469.35 117.42,473.82 121.9,477.3 C126.38,480.78 130.92,484.37 135.4,487.4 C139.88,490.43 145.53,493.57 148.8,495.5 C152.07,497.43 153.2,497.95 155,499 C156.8,500.05 158.27,501.03 159.6,501.8 C160.93,502.57 161.27,503.25 163,503.6 C164.73,503.95 158.25,503.85 170,503.9 C181.75,503.95 222.92,503.9 233.5,503.9" fill="none" stroke="#000" stroke-width="1.9" stroke-linejoin="round" />
<path d="M55,444.4 C55.92,444.47 58.75,444.57 60.5,444.8 C62.25,445.03 63.98,445.12 65.5,445.8 C67.02,446.48 68.2,447.87 69.6,448.9 C71,449.93 72.47,451.08 73.9,452 C75.33,452.92 76.75,453.55 78.2,454.4 C79.65,455.25 81.12,456.22 82.6,457.1 C84.08,457.98 85.58,458.95 87.1,459.7 C88.62,460.45 90.13,461.08 91.7,461.6 C93.27,462.12 94.83,462.32 96.5,462.8 C98.17,463.28 99.7,463.87 101.7,464.5 C103.7,465.13 106.03,465.82 108.5,466.6 C110.97,467.38 114.27,468.53 116.5,469.2 C118.73,469.87 120.22,470.15 121.9,470.6 C123.58,471.05 125.03,471.45 126.6,471.9 C128.17,472.35 129.62,472.85 131.3,473.3 C132.98,473.75 135.02,474.15 136.7,474.6 C138.38,475.05 139.72,475.55 141.4,476 C143.08,476.45 145.12,476.9 146.8,477.3 C148.48,477.7 149.82,478 151.5,478.4 C153.18,478.8 155.1,479.25 156.9,479.7 C158.7,480.15 160.57,480.72 162.3,481.1 C164.03,481.48 165.68,481.68 167.3,482 C168.92,482.32 170.38,482.63 172,483 C173.62,483.37 175.38,483.8 177,484.2 C178.62,484.6 180.12,485.02 181.7,485.4 C183.28,485.78 184.9,486.12 186.5,486.5 C188.1,486.88 189.53,487.33 191.3,487.7 C193.07,488.07 195.32,488.38 197.1,488.7 C198.88,489.02 200.4,489.28 202,489.6 C203.6,489.92 205.12,490.32 206.7,490.6 C208.28,490.88 209.73,491.07 211.5,491.3 C213.27,491.53 215.55,491.83 217.3,492 C219.05,492.17 220.22,492.22 222,492.3 C223.78,492.38 227,492.47 228,492.5" fill="none" stroke="#000" stroke-width="2.0" stroke-linejoin="round" stroke-dasharray="1.8 3"/>
<line x1="176.2" y1="403" x2="187.7" y2="403" stroke="#000" stroke-width="1.9" />
<text x="0" y="0" transform="translate(192.6,405.5) scale(1,1.08)" font-size="7" text-anchor="start" font-weight="normal" fill="#1a1a1a" stroke="#1a1a1a" stroke-width="0.25" >Control</text>
<line x1="176.2" y1="415" x2="187.7" y2="415" stroke="#000" stroke-width="1.9" stroke-dasharray="3.3 2.7"/>
<text x="0" y="0" transform="translate(192.6,417.5) scale(1,1.08)" font-size="7" text-anchor="start" font-weight="normal" fill="#1a1a1a" stroke="#1a1a1a" stroke-width="0.25" >A&#946; 3&#956;M</text>
<text x="5.4" y="589.3" font-size="13.5" text-anchor="start" font-weight="bold" fill="#000" stroke="#000" stroke-width="0.5" >G</text>
<text x="0" y="0" font-size="8.4" text-anchor="middle" fill="#1a1a1a" stroke="#1a1a1a" stroke-width="0.22" transform="translate(27.3,647.2) rotate(-90) scale(1,0.88)" dominant-baseline="central">Absorbance 350 nm</text>
<line x1="55.1" y1="585.75" x2="55.1" y2="710.2" stroke="#000" stroke-width="1.8" />
<line x1="51.9" y1="586.5" x2="55.6" y2="586.5" stroke="#000" stroke-width="1.5" />
<text x="0" y="0" transform="translate(50.7,589.3) scale(1,1.06)" font-size="9" text-anchor="end" font-weight="normal" fill="#1a1a1a" stroke="#1a1a1a" stroke-width="0.25" >0.4</text>
<line x1="51.9" y1="614.05" x2="55.6" y2="614.05" stroke="#000" stroke-width="1.5" />
<text x="0" y="0" transform="translate(50.7,616.85) scale(1,1.06)" font-size="9" text-anchor="end" font-weight="normal" fill="#1a1a1a" stroke="#1a1a1a" stroke-width="0.25" >0.3</text>
<line x1="51.9" y1="641.6" x2="55.6" y2="641.6" stroke="#000" stroke-width="1.5" />
<text x="0" y="0" transform="translate(50.7,644.4) scale(1,1.06)" font-size="9" text-anchor="end" font-weight="normal" fill="#1a1a1a" stroke="#1a1a1a" stroke-width="0.25" >0.2</text>
<line x1="51.9" y1="669.15" x2="55.6" y2="669.15" stroke="#000" stroke-width="1.5" />
<text x="0" y="0" transform="translate(50.7,671.95) scale(1,1.06)" font-size="9" text-anchor="end" font-weight="normal" fill="#1a1a1a" stroke="#1a1a1a" stroke-width="0.25" >0.1</text>
<line x1="51.9" y1="696.7" x2="55.6" y2="696.7" stroke="#000" stroke-width="1.5" />
<text x="0" y="0" transform="translate(50.7,699.5) scale(1,1.06)" font-size="9" text-anchor="end" font-weight="normal" fill="#1a1a1a" stroke="#1a1a1a" stroke-width="0.25" >0.0</text>
<line x1="54.2" y1="696.7" x2="240" y2="696.7" stroke="#000" stroke-width="1.8" />
<line x1="107.9" y1="696.2" x2="107.9" y2="699.9" stroke="#000" stroke-width="1.5" />
<text x="0" y="0" transform="translate(107.9,709.2) scale(1,1.06)" font-size="9" text-anchor="middle" font-weight="normal" fill="#1a1a1a" stroke="#1a1a1a" stroke-width="0.25" >1000</text>
<line x1="160.7" y1="696.2" x2="160.7" y2="699.9" stroke="#000" stroke-width="1.5" />
<text x="0" y="0" transform="translate(160.7,709.2) scale(1,1.06)" font-size="9" text-anchor="middle" font-weight="normal" fill="#1a1a1a" stroke="#1a1a1a" stroke-width="0.25" >2000</text>
<line x1="213.5" y1="696.2" x2="213.5" y2="699.9" stroke="#000" stroke-width="1.5" />
<text x="0" y="0" transform="translate(213.5,709.2) scale(1,1.06)" font-size="9" text-anchor="middle" font-weight="normal" fill="#1a1a1a" stroke="#1a1a1a" stroke-width="0.25" >3000</text>
<text x="147.7" y="724.8" font-size="8.4" text-anchor="middle" font-weight="normal" fill="#1a1a1a" stroke="#1a1a1a" stroke-width="0.25" >Seconds</text>
<path d="M55.1,696.5 L55.16,696.37 L55.22,696.21 L55.3,696.02 L55.39,695.81 L55.48,695.59 L55.58,695.34 L55.69,695.08 L55.8,694.81 L55.92,694.52 L56.05,694.22 L56.17,693.91 L56.3,693.6 L56.43,693.29 L56.57,692.98 L56.71,692.67 L56.86,692.36 L57.02,692.03 L57.17,691.69 L57.34,691.32 L57.5,690.92 L57.67,690.48 L57.85,690.01 L58.02,689.48 L58.2,688.9 L58.38,688.26 L58.57,687.58 L58.76,686.85 L58.96,686.07 L59.16,685.27 L59.36,684.43 L59.57,683.56 L59.77,682.67 L59.98,681.77 L60.19,680.85 L60.39,679.93 L60.6,679 L60.8,678.05 L61.01,677.06 L61.22,676.04 L61.43,674.99 L61.63,673.92 L61.84,672.84 L62.05,671.77 L62.26,670.7 L62.47,669.66 L62.68,668.63 L62.89,667.65 L63.1,666.7 L63.31,665.79 L63.51,664.91 L63.71,664.05 L63.91,663.21 L64.12,662.38 L64.32,661.57 L64.52,660.78 L64.73,659.99 L64.94,659.21 L65.15,658.44 L65.37,657.67 L65.6,656.9 L65.83,656.13 L66.06,655.38 L66.3,654.63 L66.54,653.89 L66.78,653.16 L67.02,652.44 L67.28,651.72 L67.53,651.01 L67.79,650.3 L68.05,649.6 L68.32,648.9 L68.6,648.2 L68.88,647.51 L69.17,646.81 L69.46,646.12 L69.76,645.44 L70.06,644.76 L70.36,644.08 L70.67,643.41 L70.99,642.75 L71.31,642.1 L71.63,641.46 L71.96,640.82 L72.3,640.2 L72.64,639.59 L72.97,639 L73.31,638.42 L73.65,637.84 L74,637.28 L74.35,636.72 L74.71,636.17 L75.08,635.62 L75.46,635.07 L75.86,634.52 L76.27,633.96 L76.7,633.4 L77.15,632.83 L77.62,632.24 L78.1,631.64 L78.6,631.04 L79.12,630.44 L79.64,629.84 L80.17,629.26 L80.7,628.68 L81.23,628.12 L81.76,627.59 L82.28,627.08 L82.8,626.6 L83.31,626.15 L83.83,625.72 L84.34,625.3 L84.86,624.91 L85.38,624.53 L85.89,624.18 L86.41,623.83 L86.93,623.5 L87.45,623.18 L87.97,622.88 L88.48,622.58 L89,622.3 L89.52,622.03 L90.03,621.77 L90.55,621.54 L91.07,621.31 L91.59,621.1 L92.11,620.9 L92.62,620.71 L93.14,620.53 L93.66,620.36 L94.17,620.2 L94.69,620.05 L95.2,619.9 L95.71,619.76 L96.22,619.63 L96.73,619.51 L97.24,619.4 L97.74,619.3 L98.25,619.21 L98.76,619.13 L99.26,619.05 L99.77,618.98 L100.27,618.88 L100.78,618.76 L101.28,618.64 L101.79,618.52 L102.31,618.42 L102.84,618.31 L103.36,618.22 L103.89,618.13 L104.42,618.05 L104.95,617.97 L105.48,617.9 L106,617.83 L106.51,617.77 L107.02,617.71 L107.53,617.66 L108.02,617.62 L108.52,617.58 L109.02,617.55 L109.51,617.52 L110,617.5 L110.48,617.49 L110.96,617.48 L111.43,617.47 L111.89,617.47 L112.35,617.47 L112.8,617.48 L113.24,617.49 L113.68,617.51 L114.1,617.56 L114.5,617.63 L114.9,617.71 L115.29,617.79 L115.67,617.87 L116.05,617.96 L116.43,618.05 L116.8,618.15 L117.18,618.25 L117.57,618.35 L117.95,618.46 L118.32,618.56 L118.68,618.65 L119.04,618.75 L119.42,618.85 L119.8,618.95 L120.2,619.06 L120.62,619.19 L121.06,619.34 L121.52,619.51 L122,619.7 L122.51,619.92 L123.04,620.17 L123.6,620.45 L124.2,620.75 L124.83,621.09 L125.48,621.44 L126.16,621.82 L126.84,622.21 L127.52,622.61 L128.2,623.01 L128.86,623.42 L129.49,623.82 L130.1,624.22 L130.66,624.6 L131.18,624.96 L131.66,625.3 L132.12,625.63 L132.57,625.96 L133.01,626.3 L133.44,626.65 L133.87,627.01 L134.29,627.4 L134.71,627.8 L135.14,628.24 L135.56,628.7 L136,629.2 L136.44,629.74 L136.88,630.31 L137.31,630.89 L137.74,631.5 L138.16,632.12 L138.58,632.76 L139,633.42 L139.42,634.08 L139.83,634.76 L140.24,635.45 L140.66,636.14 L141.07,636.84 L141.49,637.57 L141.9,638.31 L142.32,639.07 L142.73,639.84 L143.14,640.62 L143.55,641.41 L143.96,642.21 L144.37,643.01 L144.78,643.82 L145.19,644.62 L145.6,645.42 L146.01,646.22 L146.43,647.03 L146.85,647.85 L147.28,648.68 L147.72,649.52 L148.15,650.37 L148.59,651.22 L149.02,652.07 L149.45,652.91 L149.86,653.75 L150.27,654.57 L150.66,655.38 L151.04,656.18 L151.4,656.97 L151.75,657.75 L152.09,658.52 L152.42,659.29 L152.73,660.04 L153.04,660.77 L153.34,661.5 L153.63,662.2 L153.91,662.88 L154.2,663.54 L154.47,664.18 L154.75,664.8 L155.03,665.4 L155.31,666 L155.59,666.6 L155.87,667.17 L156.14,667.74 L156.41,668.28 L156.67,668.81 L156.92,669.31 L157.16,669.78 L157.39,670.22 L157.61,670.63 L157.8,671 L157.96,671.28 L158.08,671.5 L158.19,671.66 L158.28,671.78 L158.37,671.9 L158.48,672.03 L158.61,672.19 L158.75,672.39 L158.91,672.63 L159.07,672.9 L159.22,673.21 L159.37,673.55 L159.52,673.93 L159.65,674.32 L159.78,674.72 L159.9,675.12 L160.01,675.53 L160.13,675.95 L160.24,676.36 L160.36,676.78 L160.48,677.19 L160.61,677.6 L160.74,678 L160.89,678.4 L161.06,678.83 L161.23,679.28 L161.41,679.74 L161.59,680.2 L161.78,680.66 L161.98,681.12 L162.18,681.58 L162.38,682.04 L162.59,682.48 L162.81,682.92 L163.03,683.33 L163.27,683.74 L163.52,684.16 L163.78,684.58 L164.05,685 L164.32,685.41 L164.61,685.82 L164.89,686.22 L165.19,686.61 L165.48,686.98 L165.78,687.33 L166.07,687.67 L166.35,687.99 L166.61,688.3 L166.86,688.58 L167.13,688.85 L167.4,689.1 L167.69,689.35 L168,689.59 L168.32,689.83 L168.65,690.06 L169,690.29 L169.36,690.53 L169.73,690.77 L170.1,691.02 L170.48,691.27 L170.86,691.53 L171.23,691.78 L171.59,692.03 L171.94,692.28 L172.3,692.52 L172.67,692.76 L173.04,693 L173.42,693.23 L173.82,693.46 L174.23,693.68 L174.66,693.91 L175.13,694.13 L175.57,694.34 L175.94,694.54 L176.26,694.73 L176.56,694.91 L176.87,695.08 L177.22,695.25 L177.65,695.43 L178.19,695.6 L178.87,695.71 L179.71,695.81 L180.75,695.91 L182,696 L183.58,696.08 L185.53,696.16 L187.77,696.23 L190.22,696.29 L192.8,696.34 L195.44,696.39 L198.05,696.44 L200.56,696.48 L202.88,696.51 L204.95,696.55 L206.68,696.57 L208,696.6" fill="none" stroke="#000" stroke-width="1.8" stroke-linejoin="round" stroke-dasharray="1.6 3.6"/>
<path d="M55.1,696.5 C55.3,696.02 55.78,694.87 56.3,693.6 C56.82,692.33 57.48,691.33 58.2,688.9 C58.92,686.47 59.78,682.7 60.6,679 C61.42,675.3 62.27,670.38 63.1,666.7 C63.93,663.02 64.68,659.98 65.6,656.9 C66.52,653.82 67.48,650.98 68.6,648.2 C69.72,645.42 70.95,642.67 72.3,640.2 C73.65,637.73 74.95,635.67 76.7,633.4 C78.45,631.13 80.75,628.45 82.8,626.6 C84.85,624.75 86.93,623.42 89,622.3 C91.07,621.18 93.15,620.48 95.2,619.9 C97.25,619.32 99.25,619.02 101.3,618.8 C103.35,618.58 105.55,618.55 107.5,618.6 C109.45,618.65 111.33,618.85 113,619.1 C114.67,619.35 115.95,619.67 117.5,620.1 C119.05,620.53 120.27,620.72 122.3,621.7 C124.33,622.68 127.63,624.57 129.7,626 C131.77,627.43 133.05,628.35 134.7,630.3 C136.35,632.25 137.97,634.92 139.6,637.7 C141.23,640.48 142.85,643.8 144.5,647 C146.15,650.2 148.05,653.82 149.5,656.9 C150.95,659.98 152.07,663.02 153.2,665.5 C154.33,667.98 155.53,670.35 156.3,671.8 C157.07,673.25 157.3,673 157.8,674.2 C158.3,675.4 158.63,677.27 159.3,679 C159.97,680.73 160.77,682.85 161.8,684.6 C162.83,686.35 164.13,688.23 165.5,689.5 C166.87,690.77 168.42,691.37 170,692.2 C171.58,693.03 173,693.87 175,694.5 C177,695.13 176.5,695.65 182,696 C187.5,696.35 203.67,696.5 208,696.6" fill="none" stroke="#000" stroke-width="1.9" stroke-linejoin="round" />
<line x1="179.5" y1="665" x2="191.1" y2="665" stroke="#000" stroke-width="1.9" />
<text x="0" y="0" transform="translate(195,667.5) scale(1,1.08)" font-size="7" text-anchor="start" font-weight="normal" fill="#1a1a1a" stroke="#1a1a1a" stroke-width="0.25" >Control</text>
<line x1="179.5" y1="676.5" x2="191.1" y2="676.5" stroke="#000" stroke-width="1.9" stroke-dasharray="3.3 2.7"/>
<text x="0" y="0" transform="translate(195,679) scale(1,1.08)" font-size="7" text-anchor="start" font-weight="normal" fill="#1a1a1a" stroke="#1a1a1a" stroke-width="0.25" >Amylin 3 &#956;M</text>
<text x="276.6" y="590.2" font-size="13.5" text-anchor="start" font-weight="bold" fill="#000" stroke="#000" stroke-width="0.5" >H</text>
<text x="0" y="0" font-size="8.4" text-anchor="middle" fill="#1a1a1a" stroke="#1a1a1a" stroke-width="0.22" transform="translate(299.9,647) rotate(-90) scale(1,0.88)" dominant-baseline="central">Absorbance 350 nm</text>
<line x1="327.4" y1="585.65" x2="327.4" y2="710" stroke="#000" stroke-width="1.8" />
<line x1="324.2" y1="586.4" x2="327.9" y2="586.4" stroke="#000" stroke-width="1.5" />
<text x="0" y="0" transform="translate(323,589.2) scale(1,1.06)" font-size="9" text-anchor="end" font-weight="normal" fill="#1a1a1a" stroke="#1a1a1a" stroke-width="0.25" >0.4</text>
<line x1="324.2" y1="613.95" x2="327.9" y2="613.95" stroke="#000" stroke-width="1.5" />
<text x="0" y="0" transform="translate(323,616.75) scale(1,1.06)" font-size="9" text-anchor="end" font-weight="normal" fill="#1a1a1a" stroke="#1a1a1a" stroke-width="0.25" >0.3</text>
<line x1="324.2" y1="641.5" x2="327.9" y2="641.5" stroke="#000" stroke-width="1.5" />
<text x="0" y="0" transform="translate(323,644.3) scale(1,1.06)" font-size="9" text-anchor="end" font-weight="normal" fill="#1a1a1a" stroke="#1a1a1a" stroke-width="0.25" >0.2</text>
<line x1="324.2" y1="669.05" x2="327.9" y2="669.05" stroke="#000" stroke-width="1.5" />
<text x="0" y="0" transform="translate(323,671.85) scale(1,1.06)" font-size="9" text-anchor="end" font-weight="normal" fill="#1a1a1a" stroke="#1a1a1a" stroke-width="0.25" >0.1</text>
<line x1="324.2" y1="696.6" x2="327.9" y2="696.6" stroke="#000" stroke-width="1.5" />
<text x="0" y="0" transform="translate(323,699.4) scale(1,1.06)" font-size="9" text-anchor="end" font-weight="normal" fill="#1a1a1a" stroke="#1a1a1a" stroke-width="0.25" >0.0</text>
<line x1="326.5" y1="696.6" x2="512.5" y2="696.6" stroke="#000" stroke-width="1.8" />
<line x1="380.2" y1="696.1" x2="380.2" y2="699.8" stroke="#000" stroke-width="1.5" />
<text x="0" y="0" transform="translate(380.2,709.1) scale(1,1.06)" font-size="9" text-anchor="middle" font-weight="normal" fill="#1a1a1a" stroke="#1a1a1a" stroke-width="0.25" >1000</text>
<line x1="433" y1="696.1" x2="433" y2="699.8" stroke="#000" stroke-width="1.5" />
<text x="0" y="0" transform="translate(433,709.1) scale(1,1.06)" font-size="9" text-anchor="middle" font-weight="normal" fill="#1a1a1a" stroke="#1a1a1a" stroke-width="0.25" >2000</text>
<line x1="485.8" y1="696.1" x2="485.8" y2="699.8" stroke="#000" stroke-width="1.5" />
<text x="0" y="0" transform="translate(485.8,709.1) scale(1,1.06)" font-size="9" text-anchor="middle" font-weight="normal" fill="#1a1a1a" stroke="#1a1a1a" stroke-width="0.25" >3000</text>
<text x="419.9" y="724.8" font-size="8.4" text-anchor="middle" font-weight="normal" fill="#1a1a1a" stroke="#1a1a1a" stroke-width="0.25" >Seconds</text>
<path d="M327.2,696.4 C327.67,693.67 329.1,685.32 330,680 C330.9,674.68 331.72,669.17 332.6,664.5 C333.48,659.83 334.4,655.62 335.3,652 C336.2,648.38 337.08,645.47 338,642.8 C338.92,640.13 339.72,638.55 340.8,636 C341.88,633.45 342.8,630.37 344.5,627.5 C346.2,624.63 348.82,620.88 351,618.8 C353.18,616.72 355.42,615.92 357.6,615 C359.78,614.08 361.93,613.67 364.1,613.3 C366.27,612.93 368.33,612.92 370.6,612.8 C372.87,612.68 374.6,612.52 377.7,612.6 C380.8,612.68 385.48,612.77 389.2,613.3 C392.92,613.83 396.85,614.67 400,615.8 C403.15,616.93 405.4,618.48 408.1,620.1 C410.8,621.72 413.73,623.6 416.2,625.5 C418.67,627.4 420.88,629.27 422.9,631.5 C424.92,633.73 426.52,636.2 428.3,638.9 C430.08,641.6 431.92,644.78 433.6,647.7 C435.28,650.62 436.93,654.27 438.4,656.4 C439.87,658.53 441.07,658.82 442.4,660.5 C443.73,662.18 445.17,664.15 446.4,666.5 C447.63,668.85 448.67,672.02 449.8,674.6 C450.93,677.18 452.08,679.77 453.2,682 C454.32,684.23 455.05,686.1 456.5,688 C457.95,689.9 460.1,692.05 461.9,693.4 C463.7,694.75 465.62,695.53 467.3,696.1 C468.98,696.67 469.88,696.67 472,696.8 C474.12,696.93 478.67,696.88 480,696.9" fill="none" stroke="#000" stroke-width="1.9" stroke-linejoin="round" stroke-dasharray="4.7 3 1.6 3"/>
<path d="M327.2,696.4 C327.7,693.75 329.27,685.32 330.2,680.5 C331.13,675.68 331.93,671.62 332.8,667.5 C333.67,663.38 334.53,659.27 335.4,655.8 C336.27,652.33 336.92,649.73 338,646.7 C339.08,643.67 340.6,640.22 341.9,637.6 C343.2,634.98 344.28,633.18 345.8,631 C347.32,628.82 349.03,626.33 351,624.5 C352.97,622.67 355.42,621.15 357.6,620 C359.78,618.85 361.93,618.18 364.1,617.6 C366.27,617.02 368.45,616.73 370.6,616.5 C372.75,616.27 373.9,616.2 377,616.2 C380.1,616.2 385.37,616.08 389.2,616.5 C393.03,616.92 397.08,617.88 400,618.7 C402.92,619.52 404.45,620.27 406.7,621.4 C408.95,622.53 411.25,623.82 413.5,625.5 C415.75,627.18 417.97,629.03 420.2,631.5 C422.43,633.97 424.88,637.38 426.9,640.3 C428.92,643.22 430.73,646.2 432.3,649 C433.87,651.8 435.18,655 436.3,657.1 C437.42,659.2 437.98,660.55 439,661.6 C440.02,662.65 441.27,662.33 442.4,663.4 C443.53,664.47 444.78,666.13 445.8,668 C446.82,669.87 447.62,672.07 448.5,674.6 C449.38,677.13 450.22,680.85 451.1,683.2 C451.98,685.55 452.67,687 453.8,688.7 C454.93,690.4 456.32,692.18 457.9,693.4 C459.48,694.62 461.28,695.47 463.3,696 C465.32,696.53 467.22,696.5 470,696.6 C472.78,696.7 478.33,696.6 480,696.6" fill="none" stroke="#000" stroke-width="1.9" stroke-linejoin="round" />
<line x1="456.6" y1="588.1" x2="467.7" y2="588.1" stroke="#000" stroke-width="1.9" />
<text x="0" y="0" transform="translate(472.3,590.6) scale(1,1.08)" font-size="7" text-anchor="start" font-weight="normal" fill="#1a1a1a" stroke="#1a1a1a" stroke-width="0.25" >Control</text>
<line x1="456.6" y1="598.4" x2="467.7" y2="598.4" stroke="#000" stroke-width="1.9" stroke-dasharray="5 2.2 2.5 10"/>
<text x="0" y="0" transform="translate(472.3,600.9) scale(1,1.08)" font-size="7" text-anchor="start" font-weight="normal" fill="#1a1a1a" stroke="#1a1a1a" stroke-width="0.25" >A&#946;28 3&#956;M</text>
<text x="265.2" y="17.9" font-size="13.5" text-anchor="start" font-weight="bold" fill="#000" stroke="#000" stroke-width="0.5" >B</text>
<text x="0" y="0" font-size="8.4" text-anchor="middle" fill="#1a1a1a" stroke="#1a1a1a" stroke-width="0.22" transform="translate(292.3,71.7) rotate(-90) scale(1,0.88)" dominant-baseline="central">Time to Half-Lysis (s)</text>
<line x1="328.3" y1="8" x2="328.3" y2="123.5" stroke="#000" stroke-width="1.8" />
<line x1="325.1" y1="8.75" x2="328.8" y2="8.75" stroke="#000" stroke-width="1.5" />
<text x="0" y="0" transform="translate(323.9,11.55) scale(1,1.06)" font-size="9" text-anchor="end" font-weight="normal" fill="#1a1a1a" stroke="#1a1a1a" stroke-width="0.25" >6000</text>
<line x1="325.1" y1="47" x2="328.8" y2="47" stroke="#000" stroke-width="1.5" />
<text x="0" y="0" transform="translate(323.9,49.8) scale(1,1.06)" font-size="9" text-anchor="end" font-weight="normal" fill="#1a1a1a" stroke="#1a1a1a" stroke-width="0.25" >4000</text>
<line x1="325.1" y1="85.25" x2="328.8" y2="85.25" stroke="#000" stroke-width="1.5" />
<text x="0" y="0" transform="translate(323.9,88.05) scale(1,1.06)" font-size="9" text-anchor="end" font-weight="normal" fill="#1a1a1a" stroke="#1a1a1a" stroke-width="0.25" >2000</text>
<line x1="325.1" y1="123.5" x2="328.8" y2="123.5" stroke="#000" stroke-width="1.5" />
<text x="0" y="0" transform="translate(323.9,126.3) scale(1,1.06)" font-size="9" text-anchor="end" font-weight="normal" fill="#1a1a1a" stroke="#1a1a1a" stroke-width="0.25" >0</text>
<line x1="325.1" y1="123.5" x2="500.3" y2="123.5" stroke="#000" stroke-width="1.8" />
<rect x="333.4" y="69" width="19.2" height="54.5" fill="#a0a0a0" stroke="#000" stroke-width="1.6"/>
<line x1="343" y1="69" x2="343" y2="65.9" stroke="#000" stroke-width="1.4" />
<line x1="338" y1="65.9" x2="348" y2="65.9" stroke="#000" stroke-width="1.4" />
<rect x="361.8" y="34.3" width="19.2" height="89.2" fill="#dadada" stroke="#000" stroke-width="1.6"/>
<line x1="371.4" y1="34.3" x2="371.4" y2="27.7" stroke="#000" stroke-width="1.4" />
<line x1="366.4" y1="27.7" x2="376.4" y2="27.7" stroke="#000" stroke-width="1.4" />
<rect x="390.4" y="111.3" width="19" height="12.2" fill="#a0a0a0" stroke="#000" stroke-width="1.6"/>
<rect x="419.2" y="102.4" width="19" height="21.1" fill="#dadada" stroke="#000" stroke-width="1.6"/>
<rect x="447.4" y="119.2" width="19.4" height="4.3" fill="#a0a0a0" stroke="#000" stroke-width="1.6"/>
<rect x="476.4" y="117.4" width="19.4" height="6.1" fill="#dadada" stroke="#000" stroke-width="1.6"/>
<circle cx="370.2" cy="20.6" r="1.05" fill="#000"/>
<circle cx="373" cy="20.6" r="1.05" fill="#000"/>
<circle cx="425.6" cy="92.1" r="1.05" fill="#000"/>
<circle cx="428.45" cy="92.1" r="1.05" fill="#000"/>
<circle cx="431.3" cy="92.1" r="1.05" fill="#000"/>
<circle cx="484.3" cy="107.3" r="1.05" fill="#000"/>
<circle cx="487.1" cy="107.3" r="1.05" fill="#000"/>
<path d="M330.6,129.6V132.8H383V129.6" fill="none" stroke="#000" stroke-width="1.6"/>
<path d="M388.5,129.6V132.8H441.2V129.6" fill="none" stroke="#000" stroke-width="1.6"/>
<path d="M445.3,129.6V132.8H498V129.6" fill="none" stroke="#000" stroke-width="1.6"/>
<text x="0" y="0" transform="translate(355.7,144.2) scale(1,1.08)" font-size="7" text-anchor="middle" font-weight="normal" fill="#1a1a1a" stroke="#1a1a1a" stroke-width="0.25" >0.15 nM tPA</text>
<text x="0" y="0" transform="translate(418,144.2) scale(1,1.08)" font-size="7" text-anchor="middle" font-weight="normal" fill="#1a1a1a" stroke="#1a1a1a" stroke-width="0.25" >1.5 nM tPA</text>
<text x="0" y="0" transform="translate(473.5,144.2) scale(1,1.08)" font-size="7" text-anchor="middle" font-weight="normal" fill="#1a1a1a" stroke="#1a1a1a" stroke-width="0.25" >15 nM tPA</text>
<rect x="454.6" y="8.6" width="10.2" height="6.6" fill="#a0a0a0" stroke="#000" stroke-width="1.5"/>
<rect x="454.6" y="18.8" width="10.2" height="6.4" fill="#dadada" stroke="#000" stroke-width="1.5"/>
<text x="0" y="0" transform="translate(470,14.6) scale(1,1.08)" font-size="7.3" text-anchor="start" font-weight="normal" fill="#1a1a1a" stroke="#1a1a1a" stroke-width="0.25" >Control</text>
<text x="0" y="0" transform="translate(470,25) scale(1,1.08)" font-size="7.3" text-anchor="start" font-weight="normal" fill="#1a1a1a" stroke="#1a1a1a" stroke-width="0.25" >A&#946;</text>
<text x="267.6" y="202.3" font-size="13.5" text-anchor="start" font-weight="bold" fill="#000" stroke="#000" stroke-width="0.5" >D</text>
<text x="0" y="0" font-size="8.4" text-anchor="middle" fill="#1a1a1a" stroke="#1a1a1a" stroke-width="0.22" transform="translate(292.1,266) rotate(-90) scale(1,0.88)" dominant-baseline="central">Time to Half-Lysis (s)</text>
<line x1="327" y1="205.2" x2="327" y2="293.1" stroke="#000" stroke-width="1.8" />
<line x1="325" y1="293.1" x2="328.8" y2="293.1" stroke="#000" stroke-width="1.8" />
<line x1="323.8" y1="221.2" x2="327.5" y2="221.2" stroke="#000" stroke-width="1.5" />
<text x="0" y="0" transform="translate(322.6,224) scale(1,1.06)" font-size="9" text-anchor="end" font-weight="normal" fill="#1a1a1a" stroke="#1a1a1a" stroke-width="0.25" >1200</text>
<line x1="323.8" y1="253.3" x2="327.5" y2="253.3" stroke="#000" stroke-width="1.5" />
<text x="0" y="0" transform="translate(322.6,256.1) scale(1,1.06)" font-size="9" text-anchor="end" font-weight="normal" fill="#1a1a1a" stroke="#1a1a1a" stroke-width="0.25" >1000</text>
<line x1="323.8" y1="284.9" x2="327.5" y2="284.9" stroke="#000" stroke-width="1.5" />
<text x="0" y="0" transform="translate(322.6,287.7) scale(1,1.06)" font-size="9" text-anchor="end" font-weight="normal" fill="#1a1a1a" stroke="#1a1a1a" stroke-width="0.25" >800</text>
<path d="M324,302.3H328.8M327,302.3V311.7H488.8" fill="none" stroke="#000" stroke-width="1.8"/>
<text x="0" y="0" transform="translate(322.6,305.1) scale(1,1.06)" font-size="9" text-anchor="end" font-weight="normal" fill="#1a1a1a" stroke="#1a1a1a" stroke-width="0.25" >750</text>
<rect x="333.6" y="289.6" width="27.4" height="22.1" fill="#a0a0a0" stroke="#000" stroke-width="1.6"/>
<line x1="347.3" y1="289.6" x2="347.3" y2="286.6" stroke="#000" stroke-width="1.4" />
<line x1="340.8" y1="286.6" x2="353.8" y2="286.6" stroke="#000" stroke-width="1.4" />
<rect x="374" y="279.9" width="27.6" height="31.8" fill="#dadada" stroke="#000" stroke-width="1.6"/>
<line x1="387.8" y1="279.9" x2="387.8" y2="277.3" stroke="#000" stroke-width="1.4" />
<line x1="381.3" y1="277.3" x2="394.3" y2="277.3" stroke="#000" stroke-width="1.4" />
<rect x="414.6" y="257.7" width="27.7" height="54" fill="#dadada" stroke="#000" stroke-width="1.6"/>
<line x1="428.45" y1="257.7" x2="428.45" y2="255" stroke="#000" stroke-width="1.4" />
<line x1="421.95" y1="255" x2="434.95" y2="255" stroke="#000" stroke-width="1.4" />
<rect x="455.4" y="227.7" width="27.7" height="84" fill="#dadada" stroke="#000" stroke-width="1.6"/>
<line x1="469.25" y1="227.7" x2="469.25" y2="224.7" stroke="#000" stroke-width="1.4" />
<line x1="462.75" y1="224.7" x2="475.75" y2="224.7" stroke="#000" stroke-width="1.4" />
<circle cx="388.1" cy="270" r="1.05" fill="#000"/>
<circle cx="426.2" cy="246.6" r="1.05" fill="#000"/>
<circle cx="429.05" cy="246.6" r="1.05" fill="#000"/>
<circle cx="431.9" cy="246.6" r="1.05" fill="#000"/>
<circle cx="466.6" cy="214.9" r="1.05" fill="#000"/>
<circle cx="469.5" cy="214.9" r="1.05" fill="#000"/>
<circle cx="472.4" cy="214.9" r="1.05" fill="#000"/>
<text x="0" y="0" font-size="7.2" text-anchor="end" fill="#1a1a1a" stroke="#1a1a1a" stroke-width="0.2" transform="translate(348.3,318.3) rotate(-45)">Control</text>
<text x="0" y="0" font-size="7.2" text-anchor="end" fill="#1a1a1a" stroke="#1a1a1a" stroke-width="0.2" transform="translate(389.1,318.3) rotate(-45)">0.5 &#956;M A&#946;</text>
<text x="0" y="0" font-size="7.2" text-anchor="end" fill="#1a1a1a" stroke="#1a1a1a" stroke-width="0.2" transform="translate(429.6,318.3) rotate(-45)">1.5 &#956;M A&#946;</text>
<text x="0" y="0" font-size="7.2" text-anchor="end" fill="#1a1a1a" stroke="#1a1a1a" stroke-width="0.2" transform="translate(470.2,318.3) rotate(-45)">3 &#956;M A&#946;</text>
<text x="277.6" y="389.7" font-size="13.5" text-anchor="start" font-weight="bold" fill="#000" stroke="#000" stroke-width="0.5" >F</text>
<text x="0" y="0" font-size="8.4" text-anchor="middle" fill="#1a1a1a" stroke="#1a1a1a" stroke-width="0.22" transform="translate(290.4,447) rotate(-90) scale(1,0.88)" dominant-baseline="central">Time to Half-Lysis (s)</text>
<line x1="328.45" y1="394" x2="328.45" y2="501.75" stroke="#000" stroke-width="1.8" />
<line x1="325.25" y1="401.8" x2="328.95" y2="401.8" stroke="#000" stroke-width="1.5" />
<text x="0" y="0" transform="translate(324.05,404.6) scale(1,1.06)" font-size="9" text-anchor="end" font-weight="normal" fill="#1a1a1a" stroke="#1a1a1a" stroke-width="0.25" >6000</text>
<line x1="325.25" y1="435.1" x2="328.95" y2="435.1" stroke="#000" stroke-width="1.5" />
<text x="0" y="0" transform="translate(324.05,437.9) scale(1,1.06)" font-size="9" text-anchor="end" font-weight="normal" fill="#1a1a1a" stroke="#1a1a1a" stroke-width="0.25" >4000</text>
<line x1="325.25" y1="468.4" x2="328.95" y2="468.4" stroke="#000" stroke-width="1.5" />
<text x="0" y="0" transform="translate(324.05,471.2) scale(1,1.06)" font-size="9" text-anchor="end" font-weight="normal" fill="#1a1a1a" stroke="#1a1a1a" stroke-width="0.25" >2000</text>
<line x1="325.25" y1="501.75" x2="328.95" y2="501.75" stroke="#000" stroke-width="1.5" />
<text x="0" y="0" transform="translate(324.05,504.55) scale(1,1.06)" font-size="9" text-anchor="end" font-weight="normal" fill="#1a1a1a" stroke="#1a1a1a" stroke-width="0.25" >0</text>
<line x1="325.1" y1="501.75" x2="490.3" y2="501.75" stroke="#000" stroke-width="1.8" />
<rect x="341.7" y="447" width="54.2" height="54.75" fill="#a0a0a0" stroke="#000" stroke-width="1.6"/>
<line x1="368.8" y1="447" x2="368.8" y2="444.8" stroke="#000" stroke-width="1.4" />
<line x1="360.8" y1="444.8" x2="376.8" y2="444.8" stroke="#000" stroke-width="1.4" />
<rect x="422.8" y="410.8" width="54.1" height="90.95" fill="#dadada" stroke="#000" stroke-width="1.6"/>
<line x1="449.85" y1="410.8" x2="449.85" y2="399.6" stroke="#000" stroke-width="1.4" />
<line x1="436.35" y1="399.6" x2="463.35" y2="399.6" stroke="#000" stroke-width="1.4" />
<circle cx="448.7" cy="389.2" r="1.05" fill="#000"/>
<circle cx="451.7" cy="389.2" r="1.05" fill="#000"/>
<text x="0" y="0" transform="translate(369,510.5) scale(1,1.08)" font-size="7" text-anchor="middle" font-weight="normal" fill="#1a1a1a" stroke="#1a1a1a" stroke-width="0.25" >Control</text>
<text x="0" y="0" transform="translate(449.6,510.5) scale(1,1.08)" font-size="7" text-anchor="middle" font-weight="normal" fill="#1a1a1a" stroke="#1a1a1a" stroke-width="0.25" >A&#946; 3&#956;M</text>

<defs>
<linearGradient id="emg" x1="0" y1="1" x2="1" y2="0">
<stop offset="0" stop-color="#d2d2d2"/><stop offset="0.35" stop-color="#b4b4b4"/><stop offset="0.6" stop-color="#a4a4a4"/><stop offset="1" stop-color="#8c8c8c"/>
</linearGradient>
<radialGradient id="emd" cx="0.92" cy="0.05" r="0.35">
<stop offset="0" stop-color="#404040" stop-opacity="0.75"/><stop offset="1" stop-color="#404040" stop-opacity="0"/>
</radialGradient>
<radialGradient id="emd2" cx="0.5" cy="0.5" r="0.5">
<stop offset="0" stop-color="#555" stop-opacity="0.35"/><stop offset="1" stop-color="#555" stop-opacity="0"/>
</radialGradient>
<clipPath id="emc"><rect x="166.3" y="583" width="97.8" height="69.2"/></clipPath>
<filter id="emb" x="-5%" y="-5%" width="110%" height="110%"><feGaussianBlur stdDeviation="0.45"/></filter>
</defs>
<g clip-path="url(#emc)">
<rect x="166.3" y="583" width="97.8" height="69.2" fill="url(#emg)"/>
<rect x="166.3" y="583" width="97.8" height="69.2" fill="url(#emd)"/>
<ellipse cx="192" cy="611" rx="14" ry="8" fill="url(#emd2)"/>
<ellipse cx="218" cy="622" rx="10" ry="8" fill="url(#emd2)"/>
<g filter="url(#emb)" fill="none" stroke-linecap="round">
<g stroke="#707070" stroke-width="2.4" opacity="0.6">
<path d="M210.5,583 L262,632"/><path d="M245.3,583 L266,597"/><path d="M246.3,594.6 L266,613"/>
<path d="M228.6,635.2 L259.8,632.1"/><path d="M243.2,635.2 L255.7,652"/><path d="M214,621.7 L232.8,647.7"/>
<path d="M169.1,598.5 L197.9,623.2"/><path d="M172,603 L190,618"/><path d="M184.6,615 L211.3,626.2"/>
<path d="M191.7,626.2 L213.3,628.3"/><path d="M191.2,583 L191.2,588.2"/><path d="M207.2,586.2 L205.1,601.6"/>
<path d="M199,583 L204,590.3"/><path d="M226.5,621.7 L235.9,619.6"/><path d="M224.4,620.6 L261.9,611.2"/>
</g>
<g stroke="#d6d6d6" stroke-width="1.0" opacity="0.9">
<path d="M210.5,583 L262,632"/><path d="M245.3,583 L266,597"/><path d="M246.3,594.6 L266,613"/>
<path d="M228.6,635.2 L259.8,632.1"/><path d="M243.2,635.2 L255.7,652"/><path d="M214,621.7 L232.8,647.7"/>
<path d="M169.1,598.5 L197.9,623.2"/><path d="M172,603 L190,618"/><path d="M184.6,615 L211.3,626.2"/>
<path d="M191.7,626.2 L213.3,628.3"/><path d="M191.2,583 L191.2,588.2"/><path d="M207.2,586.2 L205.1,601.6"/>
<path d="M199,583 L204,590.3"/><path d="M226.5,621.7 L235.9,619.6"/><path d="M224.4,620.6 L261.9,611.2"/>
</g>
</g>
</g>
<rect x="173.2" y="639.1" width="13.6" height="2.5" fill="#000"/>
<text x="170.7" y="649.9" font-size="7" fill="#111" stroke="#111" stroke-width="0.2">100 nm</text>

</g>
</svg></div>
</body></html>
